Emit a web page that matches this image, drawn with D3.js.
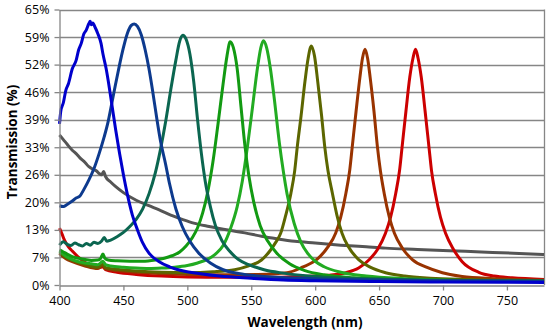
<!DOCTYPE html>
<html>
<head>
  <meta charset="utf-8">
  <script src="https://d3js.org/d3.v7.min.js"></script>
  <style>
    body {
      margin: 0;
      background: #fff;
    }
    svg {
      display: block;
    }
  </style>
</head>
<body>
<script>
  // Measured transmission spectra: [wavelength (nm), transmission (%)]
  var spec425 = [[400,38],[401,41],[403,43],[405,46],[407,47.5],[410,51],[413,53],[415,55.5],[417,57],
    [419,59.2],[421,60.2],[423,61.7],[424,62.2],[425,61.4],[426,61.8],[428,60.7],[430,59.3],[432.5,57],
    [434,54.5],[436.5,51],[439,46.5],[441.5,41.5],[444,36.5],[447,31],[450,26],[453,21.5],[457,16.5],
    [461,13],[465,10],[470,7.5],[478,5.5],[486,4.3],[497,3.3],[509,2.7],[525,2.1],[550,1.6],[575,1.2],
    [600,1],[650,0.8],[700,0.7],[779,0.6]];

  var spec458 = [[400,18.7],[403,18.5],[406,19],[410,19.8],[413,20.5],[416,21],[419,22.5],[423,24.8],
    [427,27.5],[431,31],[435,35],[438,38.5],[441,43],[444,47.6],[447,52],[450,56],[453,59.3],[456,61.2],
    [458.5,61.6],[461,61],[464,59],[467,55.5],[470,51],[473,45.5],[476,39.5],[479,34],[483,28.5],
    [486,24],[491,18],[496,13.8],[502,10.3],[509,7.5],[518,5.2],[528,3.6],[540,2.7],[560,2],[600,1.5],
    [650,1.2],[700,1],[779,0.9]];

  var spec497 = [[400,9.4],[403,10.2],[406,9.6],[409,9.3],[412,9.9],[415,9.5],[418,9.2],[421,9.8],
    [424,9.4],[427,10.1],[430,9.8],[433,10.4],[435,11.2],[437,10.3],[440,10.6],[445,11.4],[450,12.4],
    [455,13.8],[460,15.5],[465,17.9],[470,21.5],[475,26.5],[479,32],[483,38.5],[487,46],[491,53],
    [494,57.5],[496.5,58.9],[499,58],[502,54.5],[505,48],[508,39],[511,31],[514,24.5],[518,18.5],
    [522,14],[527,10.5],[533,8],[540,6],[548,4.8],[560,3.6],[575,2.8],[600,2],[650,1.4],[700,1.1],
    [779,0.9]];

  var spec534 = [[400,8.3],[403,7.8],[406,7.3],[410,6.7],[415,6.3],[420,6],[425,5.8],[430,5.9],[432,6.2],
    [434,7.3],[435.5,6.3],[438,5.9],[445,5.7],[455,5.6],[465,5.6],[475,5.9],[482,6.3],[488,6.9],
    [494,7.8],[499,9.2],[504,11.2],[508,13.5],[512,17],[516,22],[520,29],[524,38],[528,47.5],[531,54],
    [533.5,57.4],[536,56],[539,51],[542,42],[545,33],[548,26],[552,19.5],[557,14],[563,10.3],[570,7.5],
    [580,5],[592,3.4],[607,2.4],[630,1.7],[660,1.3],[700,1.1],[779,0.9]];

  var spec560 = [[400,8],[405,6.8],[410,6],[415,5.5],[420,5.2],[425,5],[430,4.8],[434,5.6],[436,4.8],
    [440,4.5],[450,4.2],[460,4],[470,3.9],[480,4],[490,4.2],[500,4.6],[508,5.2],[516,6.1],[522,7.3],
    [528,9.3],[534,13.5],[539,18.5],[543,24.5],[547,32.6],[551,42],[555,51.5],[557.5,56],[559.5,57.6],
    [562,56],[565,51],[568,44],[572,33.5],[575,27],[578,21.5],[583.6,14.5],[589,10],[594,7.5],[600,5.6],
    [607,4.3],[620,3],[640,2.1],[670,1.5],[700,1.2],[779,0.9]];

  var spec597 = [[400,7.6],[405,6.5],[410,5.8],[420,4.8],[430,4.2],[434,4.9],[436,4.1],[445,3.7],
    [460,3.3],[480,3],[500,2.9],[520,3.1],[537,3.6],[548,4.5],[558,5.9],[565,8.2],[569,10],[573,12.2],
    [577,16.5],[581,21.6],[584,27],[586,32.6],[589,40],[592,48],[594.5,53.5],[597,56.4],[599.5,54],
    [602,48],[605,40],[607.5,32.6],[610,27],[613.5,21.6],[617,16.5],[621,12.2],[626,9],[634,6],
    [643,4.2],[655,2.9],[670,2.1],[690,1.6],[720,1.3],[779,1]];

  var spec639 = [[400,7.4],[405,6.2],[410,5.5],[420,4.5],[430,3.9],[434,4.6],[436,3.8],[445,3.4],
    [460,3],[480,2.7],[500,2.5],[530,2.4],[555,2.5],[578,2.9],[590,4.2],[602,6.2],[610,9],[616,12.2],
    [620,16],[624,21.6],[627,27],[629,32.6],[632,41],[635,49],[637,53.5],[639,55.6],[641,53.5],[643,49],
    [646,41],[648.7,32.6],[651,27],[654,21.6],[658,16],[662,12.2],[668,8.8],[676,6],[687,4.2],
    [699.5,2.9],[715,2],[740,1.5],[779,1.1]];

  var spec679 = [[400,13.4],[402,12],[404,10.5],[407,9],[410,8],[415,6.5],[420,5.3],[425,4.6],[430,4],
    [434,4.3],[436,3.6],[445,3],[460,2.5],[480,2.1],[500,1.9],[530,1.8],[560,1.8],[590,2],[610,2.3],
    [624,2.9],[634,4],[642,5.9],[649,8.5],[655,12.2],[659,16],[663,21.6],[666,27],[668,32.6],[671,41],
    [674,49],[676.5,53.5],[678.5,55.6],[680.5,53.5],[683,49],[686,41],[689,32.6],[691,27],[694,21.6],
    [698,16],[702,12.2],[708,8.5],[715,5.5],[728,3],[740,2.1],[754,1.7],[779,1.3]];

  var specGray = [[400,35.4],[403,34.3],[406,33.2],[410,31.8],[413,31],[416,30],[420,28.9],[423,27.9],
    [426,27.3],[429,26.9],[431,26.3],[433,26],[434.5,26.8],[436,25.6],[440,24.3],[444,23.2],[450,21.8],
    [460,20],[470,18.7],[478,17.7],[487,16.5],[496,15.5],[505,14.6],[517,13.8],[533,12.9],[545,12.3],
    [558,11.5],[570,10.9],[584,10.3],[600,9.9],[620,9.4],[640,9],[655,8.7],[680,8.4],[705,8.1],
    [730,7.8],[755,7.5],[779,7.2]];

  // drawing order, last one ends up on top
  var spectra = [specGray, spec679, spec639, spec597, spec560, spec534, spec497, spec458, spec425];
  var lineColors = ["#555555", "#cc0000", "#993300", "#5c6600", "#22ab22", "#129a12", "#0b6650", "#0d3a8e", "#0000cc"];

  var xTicks = [400, 450, 500, 550, 600, 650, 700, 750];
  var yTicks = [0, 6.5, 13, 19.5, 26, 32.5, 39, 45.5, 52, 58.5, 65];

  var width = 554, height = 336;
  var plot = {left: 59.5, right: 544, top: 9.5, bottom: 285};

  var svg = d3.select("body")
    .append("svg")
      .attr("width", width)
      .attr("height", height);

  var x = d3.scaleLinear().domain([400, 779]).range([plot.left, plot.right]);
  var y = d3.scaleLinear().domain([0, 65]).range([plot.bottom, plot.top]);

  // horizontal gridlines
  svg.append("g")
    .selectAll("line")
    .data(yTicks.slice(1))
    .enter()
    .append("line")
      .attr("x1", plot.left)
      .attr("x2", plot.right)
      .attr("y1", function (d) { return Math.round(y(d)) + 0.5; })
      .attr("y2", function (d) { return Math.round(y(d)) + 0.5; })
      .style("stroke", "#868686")
      .style("stroke-width", 1.3);

  // right edge of the plot area
  svg.append("line")
    .attr("x1", plot.right + 0.5)
    .attr("x2", plot.right + 0.5)
    .attr("y1", plot.top)
    .attr("y2", plot.bottom)
    .style("stroke", "#868686")
    .style("stroke-width", 1.3);

  var line = d3.line()
    .x(function (d) { return x(d[0]); })
    .y(function (d) { return y(d[1]); })
    .curve(d3.curveMonotoneX);

  svg.append("g")
    .selectAll("path")
    .data(spectra)
    .enter()
    .append("path")
      .attr("d", line)
      .style("fill", "none")
      .style("stroke", function (d, i) { return lineColors[i]; })
      .style("stroke-width", 3)
      .style("stroke-linejoin", "round");

  // axes
  var xAxis = d3.axisBottom(x)
    .tickValues(xTicks)
    .tickSize(5)
    .tickPadding(6)
    .tickSizeOuter(0);

  var yAxis = d3.axisLeft(y)
    .tickValues(yTicks)
    .tickSize(5)
    .tickPadding(5)
    .tickSizeOuter(0)
    .tickFormat(function (d) { return Math.round(d) + "%"; });

  var gx = svg.append("g")
    .attr("transform", "translate(0," + (plot.bottom + 0.5) + ")")
    .call(xAxis);

  var gy = svg.append("g")
    .attr("transform", "translate(" + plot.left + ",0)")
    .call(yAxis);

  [gx, gy].forEach(function (g) {
    g.selectAll("path, line").style("stroke", "#868686").style("stroke-width", 1.3);
    g.selectAll("text")
      .style("font-family", "'Open Sans', sans-serif")
      .style("font-size", "12.5px")
      .style("fill", "#000");
  });

  // axis titles
  svg.append("text")
    .attr("x", 305)
    .attr("y", 327)
    .attr("text-anchor", "middle")
    .style("font-family", "'Open Sans', sans-serif")
    .style("font-size", "13.5px")
    .style("font-weight", "bold")
    .text("Wavelength (nm)");

  svg.append("text")
    .attr("transform", "translate(17,142) rotate(-90)")
    .attr("text-anchor", "middle")
    .style("font-family", "'Open Sans', sans-serif")
    .style("font-size", "13.5px")
    .style("font-weight", "bold")
    .text("Transmission (%)");
</script>
</body>
</html>
